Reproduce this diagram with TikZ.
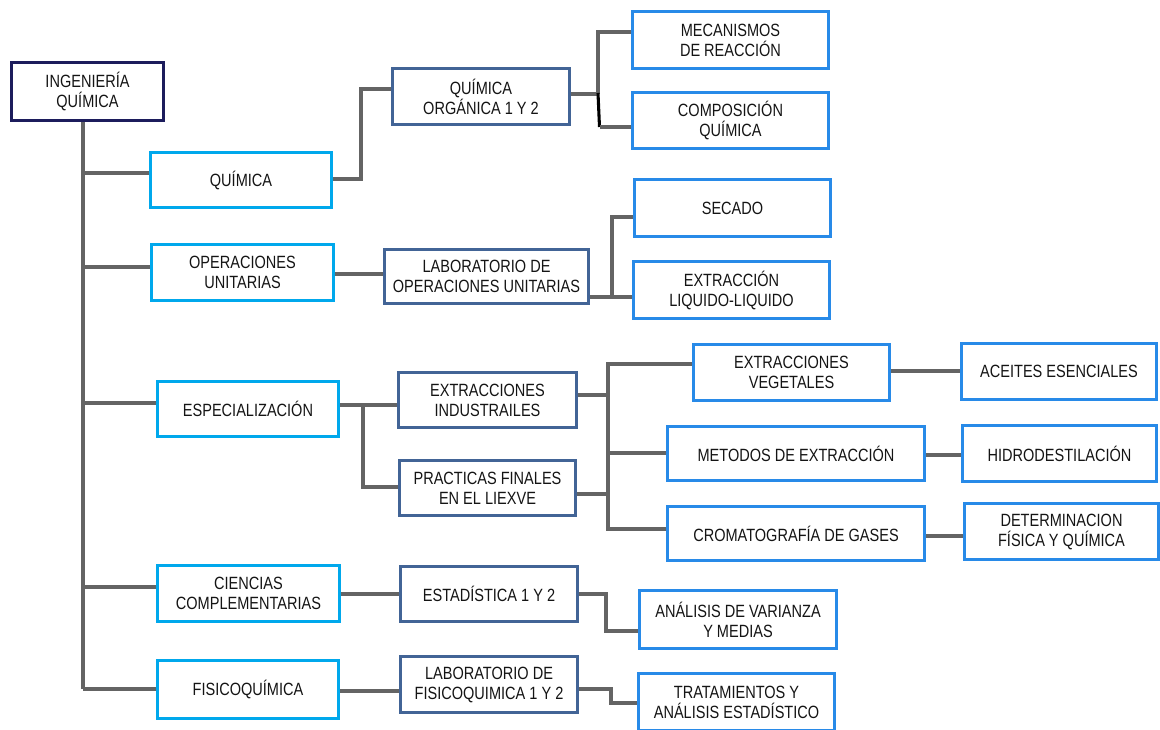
\documentclass[tikz,border=0pt]{standalone}
\usepackage{fontspec}
\setmainfont{Liberation Sans}[FakeStretch=0.82]
\usetikzlibrary{backgrounds}
\definecolor{navy}{RGB}{28,28,92}
\definecolor{cyanb}{RGB}{0,168,236}
\definecolor{steel}{RGB}{66,100,150}
\definecolor{blueb}{RGB}{40,138,232}
\definecolor{conn}{RGB}{100,100,100}
\definecolor{txt}{RGB}{20,20,20}
\tikzset{
 boxbase/.style={rectangle, fill=white, line width=2.3pt, inner sep=1pt, outer sep=0pt, align=center, text=txt, font=\fontsize{13.3}{15}\selectfont},
 rootbox/.style={boxbase, draw=navy, line width=2.6pt},
 lvlone/.style={boxbase, draw=cyanb},
 lvltwo/.style={boxbase, draw=steel},
 lvlthree/.style={boxbase, draw=blueb},
 link/.style={draw=conn, line width=2.3pt},
}
\newcommand{\bx}[7]{\node[#2, minimum width={(#5-#3-3)*0.75pt}, minimum height={(#6-#4-3)*0.75pt}] (#1) at ({(#3+#5)/2},{(#4+#6)/2}) {#7};}
\begin{document}
\begin{tikzpicture}[x=0.75pt,y=-0.75pt]
\begin{scope}[on background layer]
\fill[white] (0,0) rectangle (1160,730);
\end{scope}
\useasboundingbox (0,0) rectangle (1160,730);
% boxes
\bx{ing}{rootbox}{10}{61}{165}{122}{INGENIERÍA\\QUÍMICA}
\bx{qui}{lvlone}{149}{151}{333}{209}{QUÍMICA}
\bx{qo}{lvltwo}{391}{67}{571}{126}{QUÍMICA\\ORGÁNICA 1 Y 2}
\bx{mec}{lvlthree}{631}{10}{830}{70}{MECANISMOS\\DE REACCIÓN}
\bx{com}{lvlthree}{631}{91}{830}{150}{COMPOSICIÓN\\QUÍMICA}
\bx{ope}{lvlone}{150}{243}{335}{302}{OPERACIONES\\UNITARIAS}
\bx{lab}{lvltwo}{383}{248}{590}{305}{LABORATORIO DE\\OPERACIONES UNITARIAS}
\bx{sec}{lvlthree}{633}{178}{832}{238}{SECADO}
\bx{ext}{lvlthree}{632}{260}{831}{320}{EXTRACCIÓN\\LIQUIDO-LIQUIDO}
\bx{esp}{lvlone}{156}{380}{340}{438}{ESPECIALIZACIÓN}
\bx{ei}{lvltwo}{397}{371}{578}{429}{EXTRACCIONES\\INDUSTRAILES}
\bx{pf}{lvltwo}{398}{459}{577}{517}{PRACTICAS FINALES\\EN EL LIEXVE}
\bx{ev}{lvlthree}{692}{343}{891}{402}{EXTRACCIONES\\VEGETALES}
\bx{ac}{lvlthree}{960}{342}{1158}{401}{ACEITES ESENCIALES}
\bx{me}{lvlthree}{666}{425}{926}{482}{METODOS DE EXTRACCIÓN}
\bx{hi}{lvlthree}{961}{424}{1158}{483}{HIDRODESTILACIÓN}
\bx{cr}{lvlthree}{666}{505}{926}{562}{CROMATOGRAFÍA DE GASES}
\bx{de}{lvlthree}{963}{502}{1160}{561}{DETERMINACION\\FÍSICA Y QUÍMICA}
\bx{cie}{lvlone}{156}{564}{341}{623}{CIENCIAS\\COMPLEMENTARIAS}
\bx{est}{lvltwo}{399}{565}{579}{623}{ESTADÍSTICA 1 Y 2}
\bx{an}{lvlthree}{638}{589}{838}{650}{ANÁLISIS DE VARIANZA\\Y MEDIAS}
\bx{fis}{lvlone}{156}{659}{340}{720}{FISICOQUÍMICA}
\bx{lfq}{lvltwo}{399}{655}{579}{714}{LABORATORIO DE\\FISICOQUIMICA 1 Y 2}
\bx{tr}{lvlthree}{637}{672}{836}{732}{TRATAMIENTOS Y\\ANÁLISIS ESTADÍSTICO}
% connectors
\begin{scope}[on background layer]
\draw[link] (ing.south -| 83,0) -- (83,689);
\draw[link] (83,173) -- (qui.west |- 0,173);
\draw[link] (83,267) -- (ope.west |- 0,267);
\draw[link] (83,403) -- (esp.west |- 0,403);
\draw[link] (83,587) -- (cie.west |- 0,587);
\draw[link] (83,689) -- (fis.west |- 0,689);
\draw[link] (qui.east |- 0,179) -- (361,179) -- (361,89) -- (qo.west |- 0,89);
\draw[link] (qo.east |- 0,94) -- (598,94);
\draw[link] (mec.west |- 0,32) -- (598,32) -- (598,94);
\draw[draw=black, line width=2.3pt] (598,93) -- (599.5,127);
\draw[link] (599.5,127) -- (com.west |- 0,127);
\draw[link] (ope.east |- 0,274) -- (lab.west |- 0,274);
\draw[link] (lab.east |- 0,297) -- (612,297);
\draw[link] (sec.west |- 0,217) -- (612,217) -- (612,297) -- (ext.west |- 0,297);
\draw[link] (esp.east |- 0,405) -- (ei.west |- 0,405);
\draw[link] (363,405) -- (363,487) -- (pf.west |- 0,487);
\draw[link] (ei.east |- 0,395) -- (608,395);
\draw[link] (pf.east |- 0,494) -- (608,494);
\draw[link] (ev.west |- 0,364) -- (608,364) -- (608,529) -- (cr.west |- 0,529);
\draw[link] (608,453) -- (me.west |- 0,453);
\draw[link] (ev.east |- 0,371) -- (ac.west |- 0,371);
\draw[link] (me.east |- 0,455) -- (hi.west |- 0,455);
\draw[link] (cr.east |- 0,536) -- (de.west |- 0,536);
\draw[link] (cie.east |- 0,594) -- (est.west |- 0,594);
\draw[link] (est.east |- 0,594) -- (606,594) -- (606,631) -- (an.west |- 0,631);
\draw[link] (fis.east |- 0,691) -- (lfq.west |- 0,691);
\draw[link] (lfq.east |- 0,689) -- (611,689) -- (611,703) -- (tr.west |- 0,703);
\end{scope}
\end{tikzpicture}
\end{document}
